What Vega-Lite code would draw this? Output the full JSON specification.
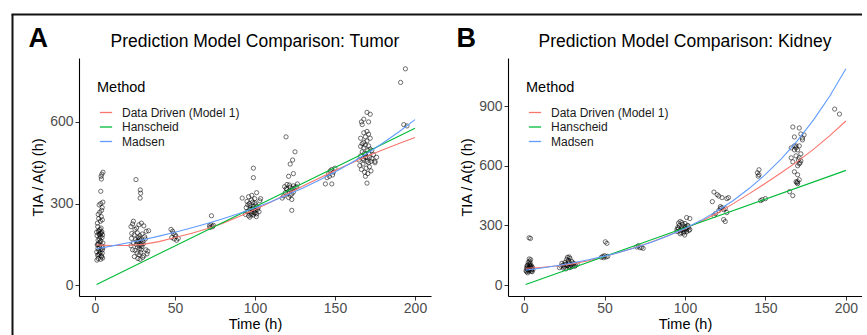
{
  "$schema": "https://vega.github.io/schema/vega-lite/v6.json",
  "padding": {"left": 1, "top": 11, "right": 0, "bottom": 0},
  "bounds": "flush",
  "spacing": 77,
  "resolve": {"scale": {"color": "independent"}, "legend": {"color": "independent"}},
  "config": {
    "font": "Liberation Sans",
    "view": {"stroke": null},
    "axis": {"grid": false, "domainColor": "#000", "domainWidth": 1.1, "tickColor": "#333", "tickSize": 4, "tickWidth": 1, "labelColor": "#4d4d4d", "labelFontSize": 14, "labelPadding": 2, "titleFontSize": 14.5, "titleFontWeight": "normal", "titleColor": "#000", "labelFont": "Liberation Sans", "titleFont": "Liberation Sans"},
    "axisX": {"titlePadding": 2, "labelPadding": 1},
    "axisY": {"titlePadding": 4},
    "legend": {"orient": "none", "legendX": 18, "legendY": 23, "padding": 0, "titleFontSize": 14.5, "titleFontWeight": "normal", "titleColor": "#000", "titlePadding": 10, "labelFontSize": 12, "labelColor": "#1a1a1a", "symbolType": "stroke", "symbolSize": 150, "symbolStrokeWidth": 1.3, "symbolOffset": 2, "labelOffset": 9, "rowPadding": 1.5},
    "title": {"fontSize": 17.5, "fontWeight": "normal", "font": "Liberation Sans", "color": "#000", "anchor": "middle", "frame": "group", "offset": 8}
  },
  "datasets": {
    "tumorPts": [
      {"t":1.2,"v":92},{"t":2.0,"v":98},{"t":3.5,"v":95},{"t":4.1,"v":104},{"t":1.6,"v":110},{"t":2.8,"v":115},{"t":3.9,"v":108},{"t":4.8,"v":100},{"t":1.1,"v":122},{"t":2.4,"v":128},{"t":3.2,"v":120},{"t":4.5,"v":118},{"t":1.8,"v":135},{"t":2.9,"v":140},{"t":3.7,"v":132},{"t":5.0,"v":138},{"t":1.4,"v":148},{"t":2.2,"v":152},{"t":3.0,"v":158},{"t":4.2,"v":145},{"t":4.9,"v":155},{"t":1.9,"v":165},{"t":2.7,"v":170},{"t":3.6,"v":162},{"t":4.4,"v":175},{"t":1.3,"v":182},{"t":2.5,"v":188},{"t":3.3,"v":178},{"t":4.0,"v":192},{"t":4.7,"v":185},{"t":2.1,"v":198},{"t":3.1,"v":205},{"t":3.8,"v":210},{"t":1.7,"v":215},{"t":2.6,"v":200},{"t":4.3,"v":196},{"t":1.5,"v":228},{"t":3.4,"v":235},{"t":2.3,"v":245},{"t":4.6,"v":240},{"t":3.9,"v":252},{"t":2.0,"v":260},{"t":3.0,"v":268},{"t":4.1,"v":275},{"t":4.5,"v":285},{"t":2.6,"v":295},{"t":3.6,"v":300},{"t":4.9,"v":305},{"t":3.6,"v":345},{"t":4.0,"v":390},{"t":3.8,"v":400},{"t":5.0,"v":415},{"t":4.3,"v":408},{"t":1.0,"v":195},{"t":2.9,"v":185},{"t":3.5,"v":190},{"t":1.8,"v":150},{"t":4.6,"v":130},{"t":2.2,"v":112},
      {"t":22.5,"v":215},{"t":23.5,"v":225},{"t":24.0,"v":235},{"t":25.0,"v":205},{"t":26.0,"v":210},{"t":27.5,"v":222},{"t":29.0,"v":228},{"t":30.5,"v":218},{"t":32.0,"v":198},{"t":33.5,"v":200},{"t":23.0,"v":190},{"t":24.5,"v":185},{"t":26.5,"v":192},{"t":28.0,"v":182},{"t":29.5,"v":188},{"t":31.0,"v":178},{"t":22.8,"v":172},{"t":25.5,"v":168},{"t":27.0,"v":175},{"t":28.5,"v":165},{"t":30.0,"v":160},{"t":31.5,"v":170},{"t":24.0,"v":155},{"t":25.8,"v":150},{"t":27.2,"v":158},{"t":28.8,"v":148},{"t":30.2,"v":152},{"t":26.5,"v":140},{"t":27.8,"v":135},{"t":29.3,"v":142},{"t":31.8,"v":130},{"t":33.0,"v":125},{"t":25.0,"v":128},{"t":26.3,"v":118},{"t":27.5,"v":112},{"t":28.6,"v":120},{"t":30.5,"v":108},{"t":32.5,"v":115},{"t":24.6,"v":105},{"t":26.8,"v":98},{"t":28.2,"v":95},{"t":29.8,"v":102},{"t":22.5,"v":145},{"t":23.5,"v":130},{"t":25.6,"v":388},{"t":28.3,"v":350},{"t":28.5,"v":338},{"t":28.2,"v":320},{"t":27.0,"v":165},{"t":28.0,"v":172},{"t":26.2,"v":160},{"t":29.0,"v":155},{"t":27.6,"v":145},{"t":28.9,"v":130},
      {"t":47.5,"v":205},{"t":48.5,"v":198},{"t":49.0,"v":190},{"t":50.0,"v":185},{"t":48.0,"v":175},{"t":49.5,"v":170},{"t":51.0,"v":165},{"t":50.5,"v":180},{"t":52.0,"v":172},
      {"t":71.5,"v":218},{"t":72.5,"v":222},{"t":73.5,"v":215},{"t":72.0,"v":212},{"t":74.0,"v":220},{"t":72.8,"v":255},
      {"t":94,"v":260},{"t":95,"v":270},{"t":96,"v":255},{"t":97,"v":280},{"t":98,"v":265},{"t":99,"v":290},{"t":100,"v":275},{"t":101,"v":262},{"t":102,"v":285},{"t":95.5,"v":295},{"t":96.5,"v":300},{"t":97.5,"v":258},{"t":98.5,"v":305},{"t":99.5,"v":268},{"t":100.5,"v":295},{"t":101.5,"v":278},{"t":94.5,"v":285},{"t":96,"v":272},{"t":97,"v":292},{"t":98,"v":280},{"t":99,"v":258},{"t":100,"v":302},{"t":101,"v":288},{"t":102.5,"v":270},{"t":95,"v":308},{"t":97.8,"v":312},{"t":99.8,"v":318},{"t":96.8,"v":250},{"t":100.8,"v":252},{"t":103,"v":310},{"t":92,"v":320},{"t":96,"v":325},{"t":98,"v":330},{"t":101,"v":340},{"t":103.5,"v":318},{"t":99,"v":395},{"t":99,"v":430},{"t":98.5,"v":282},{"t":97,"v":270},{"t":99.5,"v":278},{"t":100,"v":265},
      {"t":118,"v":328},{"t":119,"v":340},{"t":120,"v":352},{"t":121,"v":345},{"t":122,"v":360},{"t":123,"v":335},{"t":124,"v":365},{"t":119.5,"v":355},{"t":120.5,"v":338},{"t":121.5,"v":368},{"t":122.5,"v":348},{"t":123.5,"v":355},{"t":125,"v":358},{"t":126,"v":362},{"t":118.5,"v":362},{"t":120,"v":370},{"t":122,"v":330},{"t":124,"v":342},{"t":121,"v":322},{"t":126.5,"v":372},{"t":119.4,"v":545},{"t":121,"v":400},{"t":123,"v":275},{"t":123,"v":315},{"t":122,"v":445},{"t":123.5,"v":460},{"t":125,"v":490},{"t":124,"v":410},{"t":117,"v":320},
      {"t":144,"v":372},{"t":145,"v":395},{"t":146,"v":410},{"t":147,"v":420},{"t":148,"v":425},{"t":149,"v":415},{"t":150,"v":430},{"t":148,"v":372},{"t":148.5,"v":405},{"t":146.5,"v":400},
      {"t":165,"v":460},{"t":166,"v":475},{"t":167,"v":490},{"t":168,"v":505},{"t":169,"v":470},{"t":170,"v":455},{"t":171,"v":485},{"t":172,"v":500},{"t":173,"v":465},{"t":174,"v":480},{"t":175,"v":450},{"t":165.5,"v":440},{"t":166.5,"v":425},{"t":167.5,"v":445},{"t":168.5,"v":415},{"t":169.5,"v":430},{"t":170.5,"v":410},{"t":171.5,"v":435},{"t":172.5,"v":420},{"t":166,"v":510},{"t":167,"v":520},{"t":168,"v":525},{"t":169,"v":515},{"t":170,"v":530},{"t":171,"v":512},{"t":172,"v":540},{"t":173,"v":495},{"t":169,"v":545},{"t":168,"v":560},{"t":170,"v":565},{"t":171,"v":555},{"t":166,"v":540},{"t":166.5,"v":600},{"t":168,"v":610},{"t":167,"v":590},{"t":170,"v":635},{"t":172,"v":628},{"t":171,"v":600},{"t":170,"v":375},{"t":169,"v":400},{"t":175,"v":455},{"t":176,"v":470},{"t":170.5,"v":495},{"t":168.5,"v":485},{"t":167.5,"v":465},{"t":171.5,"v":470},{"t":172.5,"v":455},{"t":169,"v":480},{"t":170,"v":470},{"t":168,"v":460},{"t":171,"v":450},
      {"t":191,"v":745},{"t":194,"v":795},{"t":193,"v":590},{"t":195,"v":585}
    ],
    "kidneyPts": [
      {"t":1.2,"v":72},{"t":2,"v":78},{"t":2.8,"v":70},{"t":3.5,"v":80},{"t":4.2,"v":75},{"t":5,"v":68},{"t":1.5,"v":85},{"t":2.4,"v":90},{"t":3.1,"v":88},{"t":4,"v":95},{"t":4.8,"v":82},{"t":5.5,"v":78},{"t":2,"v":100},{"t":3,"v":105},{"t":3.8,"v":110},{"t":4.5,"v":98},{"t":2.6,"v":115},{"t":3.4,"v":120},{"t":4.1,"v":128},{"t":3.2,"v":132},{"t":1.8,"v":95},{"t":2.9,"v":76},{"t":3.7,"v":92},{"t":4.4,"v":86},{"t":5.2,"v":90},{"t":1.6,"v":68},{"t":2.2,"v":62},{"t":3.6,"v":100},{"t":4.6,"v":70},{"t":3.1,"v":238},{"t":4,"v":235},{"t":3,"v":84},{"t":2.5,"v":80},
      {"t":22,"v":88},{"t":23,"v":95},{"t":24,"v":100},{"t":25,"v":92},{"t":26,"v":105},{"t":27,"v":98},{"t":28,"v":110},{"t":29,"v":102},{"t":30,"v":95},{"t":31,"v":108},{"t":32,"v":100},{"t":33,"v":105},{"t":23.5,"v":110},{"t":25.5,"v":115},{"t":27.5,"v":125},{"t":28.5,"v":135},{"t":26.5,"v":130},{"t":29.5,"v":120},{"t":24.5,"v":85},{"t":26,"v":82},{"t":28,"v":88},{"t":30.5,"v":112},{"t":27,"v":140},{"t":28,"v":142},{"t":25,"v":105},{"t":27.8,"v":118},{"t":29,"v":90},{"t":31.5,"v":95},{"t":26.8,"v":100},{"t":28.3,"v":95},
      {"t":48,"v":140},{"t":49,"v":145},{"t":50,"v":148},{"t":51,"v":142},{"t":52,"v":145},{"t":50.5,"v":218},{"t":51.5,"v":210},{"t":49.5,"v":138},
      {"t":70,"v":192},{"t":71,"v":198},{"t":72,"v":188},{"t":73,"v":190},{"t":74,"v":185},
      {"t":95,"v":270},{"t":96,"v":285},{"t":97,"v":275},{"t":98,"v":290},{"t":99,"v":280},{"t":100,"v":295},{"t":101,"v":278},{"t":102,"v":288},{"t":96.5,"v":300},{"t":97.5,"v":265},{"t":98.5,"v":305},{"t":99.5,"v":270},{"t":100.5,"v":285},{"t":101.5,"v":300},{"t":95.5,"v":290},{"t":97,"v":258},{"t":99,"v":262},{"t":101,"v":268},{"t":102.5,"v":275},{"t":96,"v":312},{"t":98,"v":315},{"t":100,"v":310},{"t":103,"v":280},{"t":95,"v":280},{"t":99.8,"v":252},{"t":102,"v":298},{"t":101,"v":340},{"t":103,"v":335},{"t":97,"v":320},{"t":98,"v":278},{"t":100,"v":282},
      {"t":117,"v":420},{"t":118,"v":468},{"t":120,"v":455},{"t":121,"v":448},{"t":122,"v":385},{"t":123,"v":390},{"t":124,"v":380},{"t":125,"v":385},{"t":126,"v":435},{"t":127,"v":440},{"t":125,"v":320},{"t":124,"v":330},{"t":119,"v":360},{"t":121,"v":375},{"t":122,"v":395},{"t":123,"v":440},{"t":118,"v":350},{"t":126,"v":365},
      {"t":145,"v":565},{"t":146,"v":580},{"t":145.5,"v":548},{"t":147,"v":425},{"t":148,"v":430},{"t":150,"v":435},{"t":146,"v":555},
      {"t":165,"v":470},{"t":166,"v":690},{"t":167,"v":795},{"t":168,"v":745},{"t":169,"v":700},{"t":170,"v":680},{"t":171,"v":640},{"t":172,"v":625},{"t":167,"v":620},{"t":168,"v":570},{"t":169,"v":520},{"t":170,"v":510},{"t":171,"v":530},{"t":171,"v":790},{"t":172,"v":760},{"t":173,"v":740},{"t":174,"v":755},{"t":168,"v":680},{"t":169,"v":650},{"t":171,"v":610},{"t":170,"v":600},{"t":166,"v":640},{"t":167,"v":450},{"t":172,"v":660},{"t":170,"v":555},{"t":169,"v":690},{"t":168,"v":700},{"t":171,"v":700},{"t":173,"v":730},{"t":170,"v":520},{"t":170.5,"v":630},{"t":171.5,"v":615},{"t":169.5,"v":515},
      {"t":193,"v":885},{"t":196,"v":860}
    ],
    "tumorFit": [
      {"Method":"Data Driven (Model 1)","t":1,"v":148},{"Method":"Data Driven (Model 1)","t":10,"v":146},{"Method":"Data Driven (Model 1)","t":20,"v":146},{"Method":"Data Driven (Model 1)","t":30,"v":150},{"Method":"Data Driven (Model 1)","t":40,"v":160},{"Method":"Data Driven (Model 1)","t":50,"v":175},{"Method":"Data Driven (Model 1)","t":60,"v":190},{"Method":"Data Driven (Model 1)","t":70,"v":207},{"Method":"Data Driven (Model 1)","t":80,"v":228},{"Method":"Data Driven (Model 1)","t":90,"v":252},{"Method":"Data Driven (Model 1)","t":100,"v":278},{"Method":"Data Driven (Model 1)","t":110,"v":306},{"Method":"Data Driven (Model 1)","t":120,"v":335},{"Method":"Data Driven (Model 1)","t":130,"v":364},{"Method":"Data Driven (Model 1)","t":140,"v":393},{"Method":"Data Driven (Model 1)","t":150,"v":421},{"Method":"Data Driven (Model 1)","t":160,"v":448},{"Method":"Data Driven (Model 1)","t":170,"v":474},{"Method":"Data Driven (Model 1)","t":180,"v":498},{"Method":"Data Driven (Model 1)","t":190,"v":521},{"Method":"Data Driven (Model 1)","t":200,"v":543},
      {"Method":"Hanscheid","t":1,"v":2.9},{"Method":"Hanscheid","t":100,"v":288.5},{"Method":"Hanscheid","t":200,"v":577},
      {"Method":"Madsen","t":1,"v":134},{"Method":"Madsen","t":10,"v":143.5},{"Method":"Madsen","t":20,"v":154.8},{"Method":"Madsen","t":30,"v":167.1},{"Method":"Madsen","t":40,"v":180.3},{"Method":"Madsen","t":50,"v":194.5},{"Method":"Madsen","t":60,"v":209.8},{"Method":"Madsen","t":70,"v":226.4},{"Method":"Madsen","t":80,"v":244.3},{"Method":"Madsen","t":90,"v":263.6},{"Method":"Madsen","t":100,"v":284.4},{"Method":"Madsen","t":110,"v":306.8},{"Method":"Madsen","t":120,"v":331.1},{"Method":"Madsen","t":130,"v":357.2},{"Method":"Madsen","t":140,"v":385.4},{"Method":"Madsen","t":150,"v":415.9},{"Method":"Madsen","t":160,"v":448.7},{"Method":"Madsen","t":170,"v":484.1},{"Method":"Madsen","t":180,"v":522.4},{"Method":"Madsen","t":190,"v":563.6},{"Method":"Madsen","t":200,"v":608.1}
    ],
    "kidneyFit": [
      {"Method":"Data Driven (Model 1)","t":1,"v":85},{"Method":"Data Driven (Model 1)","t":10,"v":89},{"Method":"Data Driven (Model 1)","t":20,"v":96},{"Method":"Data Driven (Model 1)","t":30,"v":107},{"Method":"Data Driven (Model 1)","t":40,"v":123},{"Method":"Data Driven (Model 1)","t":50,"v":144},{"Method":"Data Driven (Model 1)","t":60,"v":167},{"Method":"Data Driven (Model 1)","t":70,"v":192},{"Method":"Data Driven (Model 1)","t":80,"v":220},{"Method":"Data Driven (Model 1)","t":90,"v":251},{"Method":"Data Driven (Model 1)","t":100,"v":284},{"Method":"Data Driven (Model 1)","t":110,"v":321},{"Method":"Data Driven (Model 1)","t":120,"v":362},{"Method":"Data Driven (Model 1)","t":130,"v":410},{"Method":"Data Driven (Model 1)","t":140,"v":460},{"Method":"Data Driven (Model 1)","t":150,"v":512},{"Method":"Data Driven (Model 1)","t":160,"v":566},{"Method":"Data Driven (Model 1)","t":170,"v":622},{"Method":"Data Driven (Model 1)","t":180,"v":684},{"Method":"Data Driven (Model 1)","t":190,"v":752},{"Method":"Data Driven (Model 1)","t":200,"v":825},
      {"Method":"Hanscheid","t":1,"v":2.9},{"Method":"Hanscheid","t":100,"v":288.5},{"Method":"Hanscheid","t":200,"v":577},
      {"Method":"Madsen","t":1,"v":75.7},{"Method":"Madsen","t":10,"v":85.4},{"Method":"Madsen","t":20,"v":97.6},{"Method":"Madsen","t":30,"v":111.6},{"Method":"Madsen","t":40,"v":127.6},{"Method":"Madsen","t":50,"v":145.9},{"Method":"Madsen","t":60,"v":166.8},{"Method":"Madsen","t":70,"v":190.7},{"Method":"Madsen","t":80,"v":218.0},{"Method":"Madsen","t":90,"v":249.3},{"Method":"Madsen","t":100,"v":285.0},{"Method":"Madsen","t":110,"v":325.8},{"Method":"Madsen","t":120,"v":372.5},{"Method":"Madsen","t":130,"v":425.9},{"Method":"Madsen","t":140,"v":486.9},{"Method":"Madsen","t":150,"v":556.7},{"Method":"Madsen","t":160,"v":636.4},{"Method":"Madsen","t":170,"v":727.6},{"Method":"Madsen","t":180,"v":831.9},{"Method":"Madsen","t":190,"v":951.1},{"Method":"Madsen","t":200,"v":1087.4}
    ],
    "frame": [{"f": 0}]
  },
  "hconcat": [
    {
      "width": 1,
      "height": 238,
      "data": {"name": "frame"},
      "mark": {"type": "point", "opacity": 0},
      "encoding": {
        "x": {"field": "f", "type": "quantitative", "scale": {"domain": [0, 1], "range": [10, 866], "nice": false, "zero": false},
          "axis": {"orient": "top", "offset": 44, "domain": true, "domainColor": "#111", "domainWidth": 2, "ticks": false, "labels": false, "grid": false,
            "title": "B", "titleX": 455, "titleY": 32, "titleAngle": 0, "titleAlign": "left", "titleBaseline": "alphabetic", "titleFontSize": 27, "titleFontWeight": "bold", "titleColor": "#000", "titleFont": "Liberation Sans"}},
        "y": {"field": "f", "type": "quantitative", "scale": {"domain": [0, 1], "range": [-44, 278], "nice": false, "zero": false},
          "axis": {"orient": "right", "offset": 10, "domain": true, "domainColor": "#111", "domainWidth": 2, "ticks": false, "labels": false, "grid": false,
            "title": "A", "titleX": 16, "titleY": -12, "titleAngle": 0, "titleAlign": "left", "titleBaseline": "alphabetic", "titleFontSize": 27, "titleFontWeight": "bold", "titleColor": "#000", "titleFont": "Liberation Sans"}}
      }
    },
    {
      "width": 352,
      "height": 238,
      "title": {"text": "Prediction Model Comparison: Tumor"},
      "layer": [
        {
          "data": {"name": "tumorPts"},
          "mark": {"type": "point", "shape": "circle", "filled": false, "size": 18, "strokeWidth": 0.8, "color": "#000", "opacity": 0.7},
          "encoding": {
            "x": {"field": "t", "type": "quantitative", "title": "Time (h)", "scale": {"domain": [-10, 210], "nice": false, "zero": false}, "axis": {"values": [0, 50, 100, 150, 200]}},
            "y": {"field": "v", "type": "quantitative", "title": "TIA / A(t) (h)", "scale": {"domain": [-39.75, 834.75], "nice": false, "zero": false}, "axis": {"values": [0, 300, 600]}}
          }
        },
        {
          "data": {"name": "tumorFit"},
          "mark": {"type": "line", "strokeWidth": 1.1, "clip": true},
          "encoding": {
            "x": {"field": "t", "type": "quantitative", "title": "Time (h)"},
            "y": {"field": "v", "type": "quantitative", "title": "TIA / A(t) (h)"},
            "color": {"field": "Method", "type": "nominal", "title": "Method",
              "scale": {"domain": ["Data Driven (Model 1)", "Hanscheid", "Madsen"], "range": ["#F8766D", "#00BA38", "#619CFF"]}}
          }
        }
      ]
    },
    {
      "width": 354,
      "height": 238,
      "title": {"text": "Prediction Model Comparison: Kidney"},
      "layer": [
        {
          "data": {"name": "kidneyPts"},
          "mark": {"type": "point", "shape": "circle", "filled": false, "size": 18, "strokeWidth": 0.8, "color": "#000", "opacity": 0.7},
          "encoding": {
            "x": {"field": "t", "type": "quantitative", "title": "Time (h)", "scale": {"domain": [-10, 210], "nice": false, "zero": false}, "axis": {"values": [0, 50, 100, 150, 200]}},
            "y": {"field": "v", "type": "quantitative", "title": "TIA / A(t) (h)", "scale": {"domain": [-54.4, 1141.8], "nice": false, "zero": false}, "axis": {"values": [0, 300, 600, 900]}}
          }
        },
        {
          "data": {"name": "kidneyFit"},
          "mark": {"type": "line", "strokeWidth": 1.1, "clip": true},
          "encoding": {
            "x": {"field": "t", "type": "quantitative", "title": "Time (h)"},
            "y": {"field": "v", "type": "quantitative", "title": "TIA / A(t) (h)"},
            "color": {"field": "Method", "type": "nominal", "title": "Method",
              "scale": {"domain": ["Data Driven (Model 1)", "Hanscheid", "Madsen"], "range": ["#F8766D", "#00BA38", "#619CFF"]}}
          }
        }
      ]
    }
  ]
}
